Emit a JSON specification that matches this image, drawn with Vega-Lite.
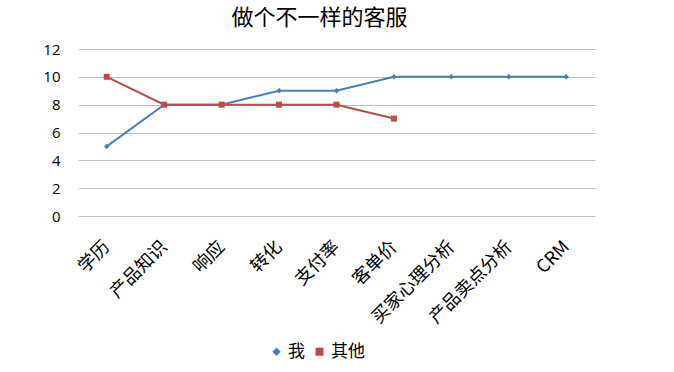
{
  "$schema": "https://vega.github.io/schema/vega-lite/v6.json",
  "width": 517,
  "height": 167,
  "autosize": "none",
  "padding": {"left": 78, "top": 49, "right": 79, "bottom": 156},
  "background": "white",
  "title": {
    "text": "做个不一样的客服",
    "font": "Noto Sans CJK SC",
    "fontSize": 22,
    "fontWeight": "normal",
    "color": "#000000",
    "anchor": "middle",
    "offset": 12,
    "dx": -17
  },
  "data": {
    "values": [
      {"cat": "学历", "series": "我", "value": 5},
      {"cat": "产品知识", "series": "我", "value": 8},
      {"cat": "响应", "series": "我", "value": 8},
      {"cat": "转化", "series": "我", "value": 9},
      {"cat": "支付率", "series": "我", "value": 9},
      {"cat": "客单价", "series": "我", "value": 10},
      {"cat": "买家心理分析", "series": "我", "value": 10},
      {"cat": "产品卖点分析", "series": "我", "value": 10},
      {"cat": "CRM", "series": "我", "value": 10},
      {"cat": "学历", "series": "其他", "value": 10},
      {"cat": "产品知识", "series": "其他", "value": 8},
      {"cat": "响应", "series": "其他", "value": 8},
      {"cat": "转化", "series": "其他", "value": 8},
      {"cat": "支付率", "series": "其他", "value": 8},
      {"cat": "客单价", "series": "其他", "value": 7}
    ]
  },
  "encoding": {
    "x": {
      "field": "cat",
      "type": "nominal",
      "sort": null,
      "scale": {"type": "point", "padding": 0.5},
      "axis": {
        "title": null,
        "labelAngle": -45,
        "labelAlign": "right",
        "labelBaseline": "middle",
        "labelFont": "Noto Sans CJK SC",
        "labelFontSize": 18,
        "labelColor": "#000000",
        "labelPadding": 28,
        "labelOverlap": false,
        "ticks": false,
        "domain": false,
        "grid": false
      }
    },
    "y": {
      "field": "value",
      "type": "quantitative",
      "scale": {"domain": [0, 12]},
      "axis": {
        "title": null,
        "values": [0, 2, 4, 6, 8, 10, 12],
        "labelFont": "Open Sans",
        "labelFontSize": 15,
        "labelColor": "#000000",
        "labelPadding": 18,
        "ticks": false,
        "domain": false,
        "gridColor": "#bfbfbf",
        "gridWidth": 1
      }
    },
    "color": {
      "field": "series",
      "type": "nominal",
      "sort": ["我", "其他"],
      "scale": {"domain": ["我", "其他"], "range": ["#4a7ebb", "#be4b48"]},
      "legend": {
        "title": null,
        "orient": "none",
        "direction": "horizontal",
        "legendX": 190,
        "legendY": 294,
        "labelFont": "Noto Sans CJK SC",
        "labelFontSize": 17,
        "labelColor": "#000000",
        "symbolStrokeWidth": 2,
        "symbolSize": 60,
        "columnPadding": 6,
        "labelOffset": 3
      }
    }
  },
  "layer": [
    {"mark": {"type": "line", "strokeWidth": 2}},
    {
      "mark": {"type": "point", "filled": true, "opacity": 1},
      "encoding": {
        "shape": {
          "field": "series",
          "type": "nominal",
          "scale": {"domain": ["我", "其他"], "range": ["diamond", "square"]},
          "legend": null
        },
        "size": {
          "field": "series",
          "type": "nominal",
          "scale": {"domain": ["我", "其他"], "range": [30, 36]},
          "legend": null
        }
      }
    }
  ],
  "config": {"view": {"stroke": null}}
}
